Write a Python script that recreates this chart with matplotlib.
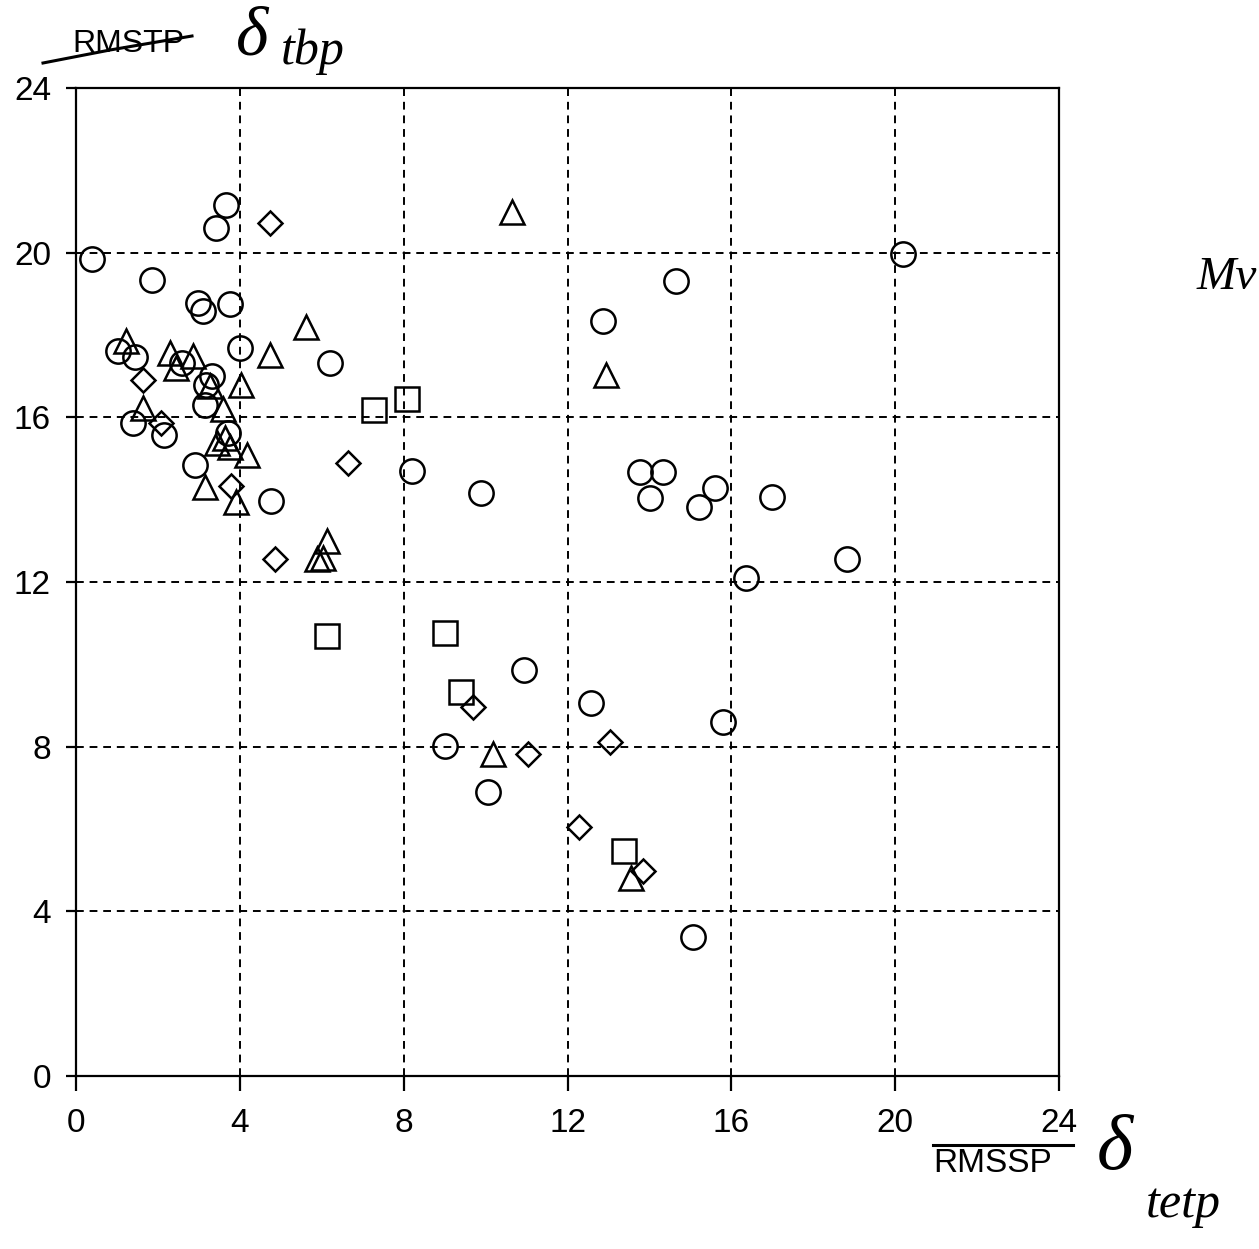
import matplotlib
matplotlib.use("Agg")
import matplotlib.pyplot as plt
from matplotlib.lines import Line2D

W, H = 1259, 1249

# values
circle_x = [0.4, 1.85, 2.99, 3.11, 3.75, 3.43, 3.66, 1.02, 1.44, 2.58, 4.0, 6.2, 3.32,
            3.17, 3.14, 1.39, 2.16, 3.72, 2.91, 4.77, 8.2, 9.88, 12.87, 14.64, 13.78,
            14.33, 14.02, 15.59, 15.2, 16.99, 18.83, 16.35, 20.18, 10.93, 12.57, 15.8,
            9.01, 10.05, 15.07]
circle_y = [19.85, 19.33, 18.77, 18.58, 18.76, 20.6, 21.17, 17.62, 17.46, 17.31, 17.69,
            17.33, 17.01, 16.79, 16.29, 15.87, 15.57, 15.62, 14.84, 13.96, 14.69, 14.17,
            18.35, 19.31, 14.67, 14.66, 14.04, 14.29, 13.83, 14.06, 12.55, 12.1, 19.96,
            9.87, 9.06, 8.59, 8.02, 6.89, 3.38]

tri_x = [1.22, 2.3, 2.86, 2.45, 4.73, 5.62, 3.27, 4.04, 3.59, 1.63, 3.45, 3.65, 3.75,
         4.17, 3.15, 3.9, 6.13, 6.02, 5.88, 10.64, 12.93, 10.18, 13.56]
tri_y = [17.85, 17.56, 17.48, 17.19, 17.51, 18.19, 16.75, 16.78, 16.2, 16.23, 15.38,
         15.5, 15.28, 15.09, 14.3, 13.94, 12.99, 12.58, 12.57, 21.0, 17.03, 7.81, 4.82]

dia_x = [4.73, 1.64, 2.08, 3.78, 6.65, 4.86, 9.7, 13.03, 11.03, 12.28, 13.84]
dia_y = [20.73, 16.9, 15.86, 14.32, 14.9, 12.57, 8.97, 8.11, 7.81, 6.04, 4.97]

sq_x = [7.28, 8.07, 6.14, 9.02, 9.4, 13.37]
sq_y = [16.17, 16.44, 10.69, 10.75, 9.34, 5.47]

ticks = [0, 4, 8, 12, 16, 20, 24]

plt.rcParams['font.family'] = ['Liberation Sans', 'DejaVu Sans']

fig = plt.figure(figsize=(W / 100, H / 100), dpi=100)
ax = fig.add_axes([76 / W, 1 - 1076 / H, 983 / W, 988 / H])

style = dict(linestyle='none', markerfacecolor='none', markeredgecolor='black',
             markeredgewidth=1.8, clip_on=False)
ax.plot(circle_x, circle_y, marker='o', markersize=17.5, **style)
ax.plot(tri_x, tri_y, marker='^', markersize=17.5, **style)
ax.plot(dia_x, dia_y, marker='D', markersize=12.5, **style)
ax.plot(sq_x, sq_y, marker='s', markersize=17, **style)

ax.set_xlim(0, 24)
ax.set_ylim(0, 24)
ax.set_xticks(ticks)
ax.set_yticks(ticks)
ax.grid(True, color='black', linestyle=(0, (4, 3)), linewidth=1.4)
ax.set_axisbelow(True)
for s in ax.spines.values():
    s.set_linewidth(1.6)
ax.tick_params(axis='x', direction='out', length=11, width=1.6, pad=12, labelsize=24)
ax.tick_params(axis='y', direction='out', length=7, width=1.6, pad=11, labelsize=24)


def fx(x):
    return x / W


def fy(y):
    return 1 - y / H


hand = dict(family=['Liberation Serif', 'DejaVu Serif'], style='italic', color='black')

# top left label, struck through by hand
fig.text(fx(72), fy(44), 'RMSTP', fontsize=23, ha='left', va='center')
fig.add_artist(Line2D([fx(43), fx(110), fx(192)], [fy(63), fy(50), fy(36)],
                      color='black', lw=2.2))
fig.text(fx(252), fy(38), 'δ', fontsize=50, ha='center', va='center', **hand)
fig.text(fx(313), fy(52), 'tbp', fontsize=36, ha='center', va='center', **hand)

# right margin scribble
fig.text(fx(1197), fy(278), 'Mv', fontsize=34, ha='left', va='center', **hand)

# bottom right label
fig.text(fx(933), fy(1164), 'RMSSP', fontsize=24, ha='left', va='center')
fig.add_artist(Line2D([fx(933), fx(1073)], [fy(1145), fy(1145)], color='black', lw=2.2))
fig.text(fx(1115), fy(1150), 'δ', fontsize=56, ha='center', va='center', **hand)
fig.text(fx(1183), fy(1205), 'tetp', fontsize=36, ha='center', va='center', **hand)

fig.savefig('out.png', dpi=100)
